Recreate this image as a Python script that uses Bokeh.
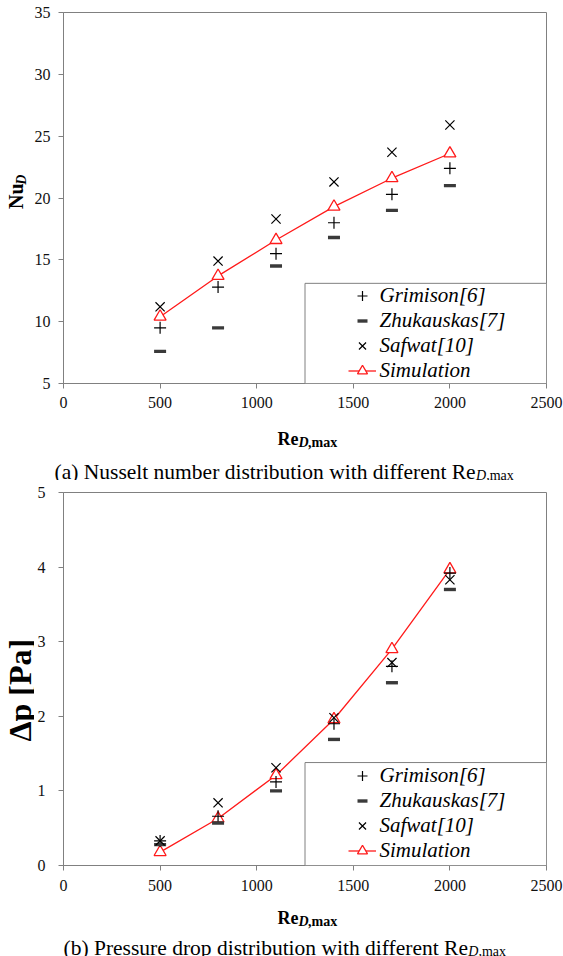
import math
from bokeh.plotting import figure
from bokeh.models import Range1d, FixedTicker, Label, Legend, LegendItem, BoxAnnotation
from bokeh.layouts import column, row
from bokeh.embed import file_html
from bokeh.resources import INLINE

# ---------------- data ----------------
re_values = [500, 800, 1100, 1400, 1700, 2000]
x_ticks = [0, 500, 1000, 1500, 2000, 2500]

nu_grimison = [9.5, 12.8, 15.5, 18.0, 20.3, 22.4]
nu_zhukauskas = [7.6, 9.5, 14.5, 16.8, 19.0, 21.0]
nu_safwat = [11.2, 14.9, 18.3, 21.3, 23.7, 25.9]
nu_simulation = [10.4, 13.7, 16.6, 19.3, 21.6, 23.6]
nu_ticks = [5, 10, 15, 20, 25, 30, 35]

dp_grimison = [0.33, 0.66, 1.12, 1.9, 2.67, 3.92]
dp_zhukauskas = [0.28, 0.57, 1.0, 1.69, 2.45, 3.7]
dp_safwat = [0.33, 0.84, 1.31, 1.98, 2.72, 3.83]
dp_simulation = [0.18, 0.63, 1.21, 1.96, 2.9, 3.97]
dp_ticks = [0, 1, 2, 3, 4, 5]

series_names = ["Grimison[6]", "Zhukauskas[7]", "Safwat[10]", "Simulation"]

FONT = "serif"
GRAY = "#808080"
RED = "#ff1a1a"
FRAME_W = 483
FRAME_LEFT = 63


def make_panel(width, left_w, height, frame_h, y_range, y_ticks, ylab_std, xlab_std,
               series, legend_top, legend_vy):
    p = figure(width=width, height=height, output_backend="svg", toolbar_location=None,
               x_range=Range1d(0, 2500), y_range=Range1d(*y_range),
               min_border_left=FRAME_LEFT - left_w,
               min_border_right=width - (FRAME_LEFT - left_w) - FRAME_W,
               min_border_top=12, min_border_bottom=height - 12 - frame_h)
    p.xgrid.visible = False
    p.ygrid.visible = False
    p.outline_line_color = GRAY
    p.outline_line_width = 1
    for ax, ticks, std in ((p.xaxis[0], x_ticks, xlab_std), (p.yaxis[0], y_ticks, ylab_std)):
        ax.ticker = FixedTicker(ticks=ticks)
        ax.axis_line_color = GRAY
        ax.major_tick_line_color = GRAY
        ax.minor_tick_line_color = None
        ax.major_tick_in = 0
        ax.major_tick_out = 5
        ax.major_label_standoff = std
        ax.major_label_text_font = FONT
        ax.major_label_text_font_size = "16px"
        ax.major_label_text_color = "#111111"

    g, z, s, sim = series
    r_line = p.line(re_values, sim, line_color=RED, line_width=1.3)
    r_tri = p.scatter(re_values, sim, marker="triangle", size=12, line_color=RED,
                      line_width=1.3, fill_color="white")
    r_g = p.scatter(re_values, g, marker="cross", size=12, line_color="black", line_width=1.2)
    r_z = p.scatter(re_values, z, marker="dash", size=12, line_color="#3a3a3a", line_width=3.4)
    r_s = p.scatter(re_values, s, marker="x", size=13, line_color="black", line_width=1.2)

    box = BoxAnnotation(left=1250, top=legend_top, fill_color="white", fill_alpha=1.0,
                        line_color=GRAY, line_width=1, line_alpha=1.0)
    p.add_layout(box)

    legend = Legend(items=[
        LegendItem(label=series_names[0], renderers=[r_g]),
        LegendItem(label=series_names[1], renderers=[r_z]),
        LegendItem(label=series_names[2], renderers=[r_s]),
        LegendItem(label=series_names[3], renderers=[r_line, r_tri]),
    ], location=(284.5, legend_vy), padding=0, margin=0, spacing=0,
        glyph_width=28, glyph_height=25, label_height=25, label_standoff=4,
        label_text_font=FONT, label_text_font_style="italic",
        label_text_font_size="21px", label_text_color="black",
        border_line_alpha=0, background_fill_alpha=0)
    p.add_layout(legend)
    return p


def text_canvas(width, height):
    """A bare canvas whose data units are pixels (origin bottom-left), for titles."""
    t = figure(width=width, height=height, output_backend="svg", toolbar_location=None,
               x_range=Range1d(0, width), y_range=Range1d(0, height),
               x_axis_type=None, y_axis_type=None, min_border=0)
    t.xgrid.visible = False
    t.ygrid.visible = False
    t.outline_line_color = None
    return t


def lab(t, x, y, text, size, style="normal", angle=0.0, align="left", baseline="alphabetic"):
    t.add_layout(Label(x=x, y=y, text=text, text_font=FONT, text_font_size=size,
                       text_font_style=style, angle=angle, text_align=align,
                       text_baseline=baseline, text_color="black"))


# ---------------- panel (a) ----------------
yl1 = text_canvas(28, 413)
lab(yl1, 15, 208.5, "Nu", "20px", "bold", math.pi / 2, "center", "middle")
lab(yl1, 20.5, 227, "D", "14px", "bold italic", math.pi / 2, "center", "middle")
p1 = make_panel(535, 28, 413, 371, (5, 35), nu_ticks, 8, 8,
                (nu_grimison, nu_zhukauskas, nu_safwat, nu_simulation), 13.1, 0)
tx1 = text_canvas(563, 67)
lab(tx1, 277, 42, "Re", "18px", "bold")
lab(tx1, 298, 38, "D", "14px", "bold italic")
lab(tx1, 307.5, 38, ",max", "14px", "bold")
lab(tx1, 54, 9, "(a) Nusselt number distribution with different Re", "21.5px")
lab(tx1, 475.6, 5, "D,", "14px", "italic")
lab(tx1, 489.2, 5, "max", "14px")

# ---------------- panel (b) ----------------
yl2 = text_canvas(34, 415)
lab(yl2, 19, 195, "\u0394p [Pa]", "32px", "bold", math.pi / 2, "center", "middle")
p2 = make_panel(529, 34, 415, 373, (0, 5), dp_ticks, 13, 9,
                (dp_grimison, dp_zhukauskas, dp_safwat, dp_simulation), 1.38, 2)
tx2 = text_canvas(563, 61)
lab(tx2, 277, 39, "Re", "18px", "bold")
lab(tx2, 298, 35, "D", "14px", "bold italic")
lab(tx2, 307.5, 35, ",max", "14px", "bold")
lab(tx2, 63, 9, "(b) Pressure drop distribution with different Re", "21.5px")
lab(tx2, 467.8, 5, "D,", "14px", "italic")
lab(tx2, 481.4, 5, "max", "14px")

layout = column(row(yl1, p1, spacing=0), tx1, row(yl2, p2, spacing=0), tx2, spacing=0)
open("out.html", "w").write(file_html(layout, INLINE))
